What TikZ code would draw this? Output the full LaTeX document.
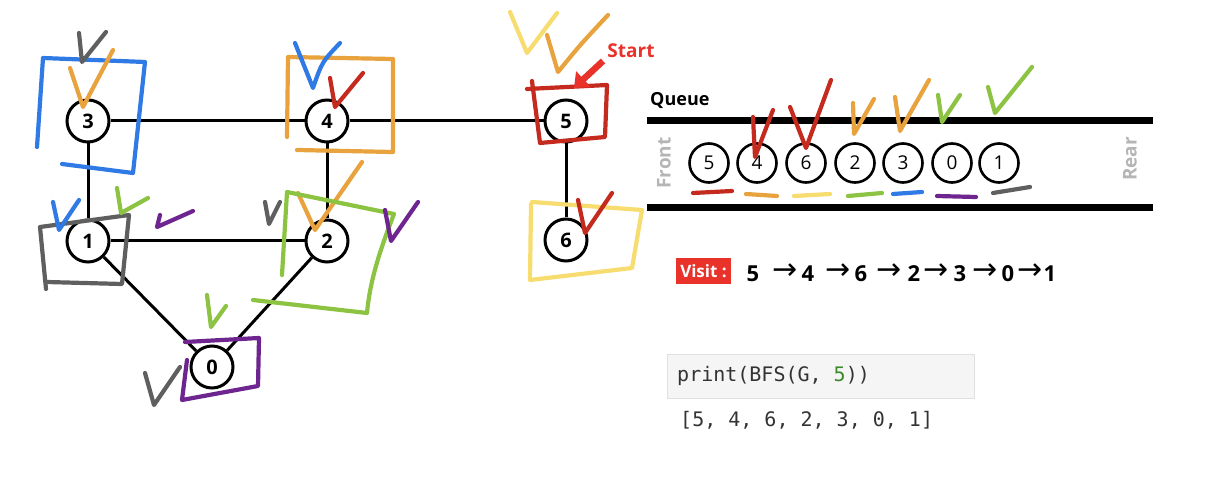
\documentclass[tikz,border=0pt]{standalone}
\usepackage{fontspec}
\setmainfont{Open Sans}
\setmonofont{DejaVu Sans Mono}
\newfontfamily\arrowfont{DejaVu Sans}
\usetikzlibrary{arrows.meta}
\definecolor{hblue}{HTML}{2F7AE5}
\definecolor{horange}{HTML}{E8A23E}
\definecolor{hred}{HTML}{C42A1E}
\definecolor{hgray}{HTML}{5F5F5F}
\definecolor{hgreen}{HTML}{8CC342}
\definecolor{hpurple}{HTML}{6E2590}
\definecolor{hyellow}{HTML}{F7DC6F}
\definecolor{startred}{HTML}{E8322A}
\definecolor{lightgraytext}{HTML}{B5B5B5}
\definecolor{codebg}{HTML}{F5F5F5}
\definecolor{codeborder}{HTML}{E0E0E0}
\definecolor{codegreen}{HTML}{3A8A2A}
\definecolor{codetext}{HTML}{333333}
\begin{document}
\begin{tikzpicture}[x=1pt,y=-1pt,
  gnode/.style={circle, draw, line width=3pt, fill=white, minimum size=42pt, inner sep=0pt, font=\fontsize{20}{20}\selectfont\bfseries},
  qnode/.style={circle, draw, line width=2.6pt, fill=white, minimum size=39pt, inner sep=0pt, font=\fontsize{19}{19}\selectfont},
  link/.style={line width=3pt},
  bar/.style={line width=7pt},
  hand/.style={line width=4.2pt, line cap=round, line join=round},
  vdigit/.style={font=\fontsize{22}{22}\selectfont\bfseries, inner sep=0pt},
  varrow/.style={font=\arrowfont\fontsize{30}{30}\selectfont, inner sep=0pt},
]
\useasboundingbox (0,0) rectangle (1212,478);

% graph nodes
\node[gnode] (n3) at (88,121) {3};
\node[gnode] (n4) at (327,121) {4};
\node[gnode] (n5) at (566,121) {5};
\node[gnode] (n1) at (88,241) {1};
\node[gnode] (n2) at (327,241) {2};
\node[gnode] (n6) at (566,240) {6};
\node[gnode] (n0) at (212,367) {0};

% edges
\draw[link] (n3) -- (n4);
\draw[link] (n4) -- (n5);
\draw[link] (n3) -- (n1);
\draw[link] (n4) -- (n2);
\draw[link] (n1) -- (n2);
\draw[link] (n1) -- (n0);
\draw[link] (n2) -- (n0);
\draw[link] (n5) -- (n6);

% hand marks around 3
\draw[hand, hblue] (37,147) -- (43,58) -- (145,62) -- (133,173) -- (62,164);
\draw[hand, hgray] (79,33) -- (82,62) -- (106,32);
\draw[hand, horange] (70,68) -- (83,107) -- (113,50);
% around 4
\draw[hand, horange] (287,137) -- (288,57) -- (393,59) -- (393,152) -- (297,150);
\draw[hand, hblue] (295,43) -- (313,88) .. controls (322,62) .. (340,43);
\draw[hand, hred] (330,78) -- (335,107) -- (363,73);
% around 2
\draw[hand, horange] (298,193) -- (315,230) -- (362,162);
\draw[hand, hgreen] (282,275) -- (287,192) -- (394,214) .. controls (380,250) and (370,280) .. (367,313) -- (253,300);
\draw[hand, hgray] (265,202) -- (269,224) -- (280,202);
\draw[hand, hpurple] (385,210) -- (391,241) -- (418,202);
% around 1
\draw[hand, hgray] (46,289) -- (40,227) -- (129,215) -- (122,284) -- (47,282);
\draw[hand, hblue] (53,202) -- (59,230) -- (79,200);
\draw[hand, hgreen] (117,188) -- (121,213) -- (148,198);
\draw[hand, hpurple] (160,215) -- (157,227) -- (193,211);
% around 0
\draw[hand, hgreen] (207,295) -- (211,327) -- (226,306);
\draw[hand, hpurple] (185,342) -- (259,338) -- (258,386) -- (182,400) -- (187,360);
\draw[hand, hgray] (145,373) -- (154,405) -- (180,367);
% around 5
\draw[hand, hred] (532,81) -- (540,143) -- (605,137) -- (607,85) -- (527,89);
\draw[hand, hyellow] (510,12) -- (527,53) -- (557,13);
\draw[hand, horange] (547,35) -- (558,72) .. controls (580,45) .. (608,15);
% around 6
\draw[hand, hyellow] (532,202) -- (642,210) -- (632,268) -- (530,280) -- (531,204);
\draw[hand, hred] (578,200) -- (585,233) -- (612,193);

% start label and arrow
\node[font=\fontsize{19}{19}\selectfont\bfseries, text=startred, inner sep=0pt] (start) at (631,51) {Start};
\coordinate (starttail) at (603,61);
\coordinate (starttip) at (574,88);
\draw[startred, line width=6.5pt, -{Triangle[length=13pt,width=21pt]}] (starttail) -- (starttip);

% queue
\node[font=\fontsize{18}{18}\selectfont\bfseries, anchor=west, inner sep=0pt] (qlabel) at (650,101) {Queue};
\coordinate (qtl) at (647,121);
\coordinate (qtr) at (1153,121);
\coordinate (qbl) at (647,208);
\coordinate (qbr) at (1153,208);
\draw[bar] (qtl) -- (qtr);
\draw[bar] (qbl) -- (qbr);
\node[font=\fontsize{19}{19}\selectfont\bfseries, text=lightgraytext, rotate=90, inner sep=0pt] (front) at (664,163) {Front};
\node[font=\fontsize{19}{19}\selectfont\bfseries, text=lightgraytext, rotate=90, inner sep=0pt] (rear) at (1130,159) {Rear};

\node[qnode] (q5) at (709,163) {5};
\node[qnode] (q4) at (757,163) {4};
\node[qnode] (q6) at (806,163) {6};
\node[qnode] (q2) at (855,163) {2};
\node[qnode] (q3) at (903,163) {3};
\node[qnode] (q0) at (952,163) {0};
\node[qnode] (q1) at (999,163) {1};

% queue checks
\draw[hand, hred] (753,117) -- (755,157) -- (773,110);
\draw[hand, hred] (790,107) -- (806,148) -- (831,80);
\draw[hand, horange] (853,103) -- (854,134) -- (874,99);
\draw[hand, horange] (895,97) -- (900,131) -- (929,80);
\draw[hand, hgreen] (938,95) -- (942,122) -- (960,95);
\draw[hand, hgreen] (988,87) -- (995,113) -- (1032,67);
% queue underlines
\draw[hand, hred] (693,193) -- (732,191);
\draw[hand, horange] (746,194) -- (777,196);
\draw[hand, hyellow] (794,196) -- (830,194);
\draw[hand, hgreen] (848,196) -- (882,193);
\draw[hand, hblue] (893,194) -- (922,192);
\draw[hand, hpurple] (937,196) -- (976,197);
\draw[hand, hgray] (993,193) -- (1030,187);

% visit
\node[fill=startred, text=white, font=\fontsize{17}{17}\selectfont\bfseries, minimum width=55pt, minimum height=26pt, inner sep=0pt] (visit) at (703.5,271) {Visit :};
\node[vdigit] (v5) at (753,274) {5};
\node[varrow] (a1) at (785,272) {→};
\node[vdigit] (v4) at (808,274) {4};
\node[varrow] (a2) at (838,272) {→};
\node[vdigit] (v6) at (861,274) {6};
\node[varrow] (a3) at (889,272) {→};
\node[vdigit] (v2) at (914,274) {2};
\node[varrow] (a4) at (936,272) {→};
\node[vdigit] (v3) at (960,274) {3};
\node[varrow] (a5) at (985,272) {→};
\node[vdigit] (v0) at (1008,274) {0};
\node[varrow] (a6) at (1030,272) {→};
\node[vdigit] (v1) at (1050,274) {1};

% code
\node[fill=codebg, draw=codeborder, line width=0.8pt, minimum width=307pt, minimum height=44pt, inner sep=0pt] (codebox) at (820.5,376) {};
\node[font=\ttfamily\fontsize{20}{20}\selectfont, text=codetext, anchor=west, inner sep=0pt] (code) at (677,376) {print(BFS(G, \textcolor{codegreen}{5}))};
\node[font=\ttfamily\fontsize{20}{20}\selectfont, text=codetext, anchor=west, inner sep=0pt] (out) at (680,420) {[5, 4, 6, 2, 3, 0, 1]};
\end{tikzpicture}
\end{document}
